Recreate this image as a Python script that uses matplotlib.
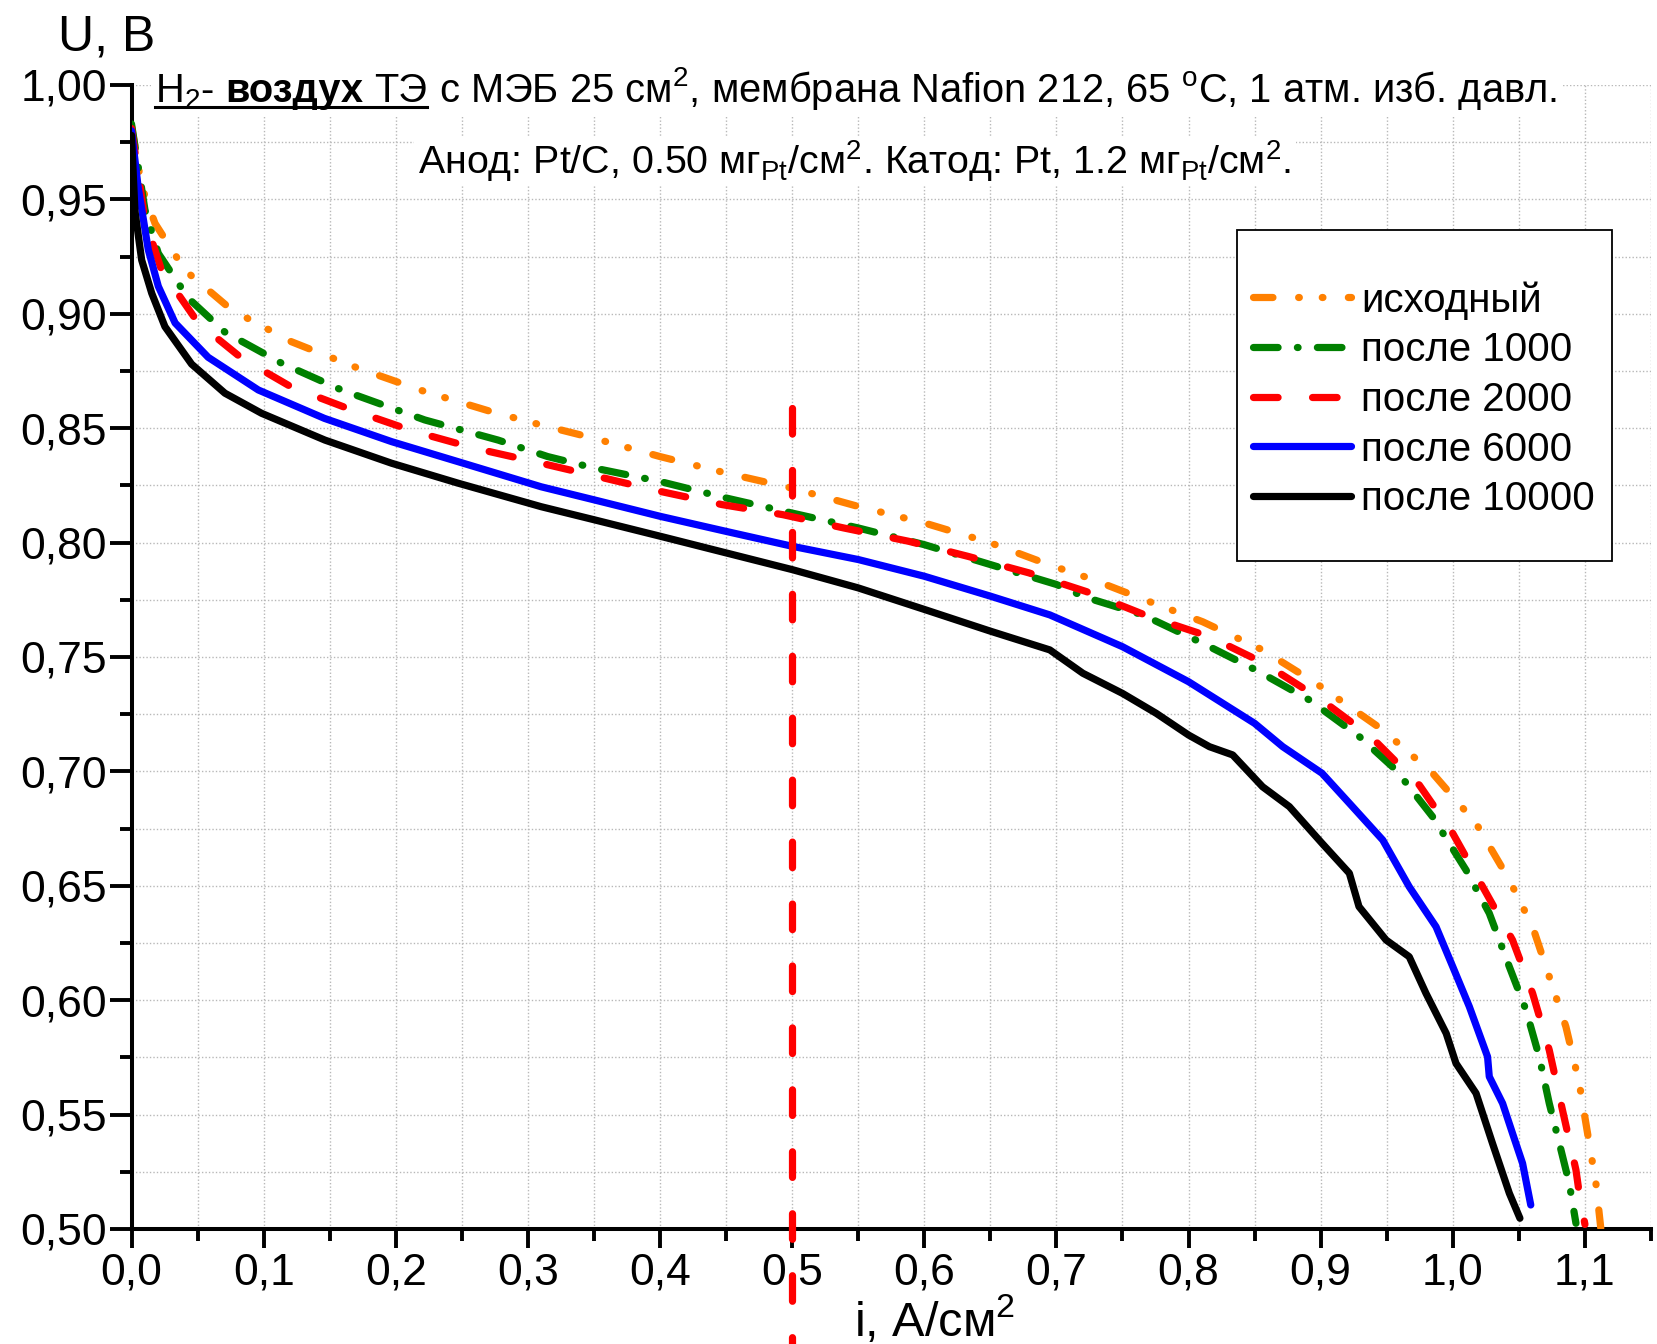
import matplotlib
matplotlib.use("Agg")
import matplotlib.pyplot as plt
from matplotlib.ticker import MultipleLocator, FuncFormatter
from matplotlib.patches import Rectangle
from matplotlib.lines import Line2D

plt.rcParams.update({
    "font.family": ["Liberation Sans", "DejaVu Sans"],
    "mathtext.fontset": "custom",
    "mathtext.rm": "Liberation Sans",
    "mathtext.it": "Liberation Sans:italic",
    "mathtext.bf": "Liberation Sans:bold",
    "lines.scale_dashes": False,
})

# --- data (i in A/cm2, U in V) ---
labels = ["исходный", "после 1000", "после 2000", "после 6000", "после 10000"]

i_init = [0, 0.0077, 0.0178, 0.0405, 0.0758, 0.121, 0.1716, 0.222, 0.2725, 0.31, 0.35, 0.40,
          0.45, 0.50, 0.55, 0.60, 0.65, 0.695, 0.725, 0.7704, 0.8107, 0.856, 0.8965, 0.947,
          0.9847, 1.0176, 1.0428, 1.0604, 1.073, 1.0856, 1.0957, 1.102, 1.1083, 1.112]
u_init = [0.982, 0.9556, 0.9395, 0.919, 0.9017, 0.8878, 0.8762, 0.866, 0.8572, 0.8514, 0.8456,
          0.8376, 0.8304, 0.8238, 0.8158, 0.8086, 0.7999, 0.7902, 0.7844, 0.7742, 0.7654, 0.7531,
          0.7385, 0.7181, 0.6992, 0.6773, 0.6525, 0.6321, 0.6103, 0.5884, 0.5637, 0.5418, 0.52, 0.5004]

i_1000 = [0, 0.0102, 0.0203, 0.043, 0.0707, 0.1136, 0.159, 0.222, 0.2775, 0.315, 0.35, 0.40,
          0.45, 0.50, 0.55, 0.60, 0.65, 0.70, 0.7225, 0.7654, 0.8107, 0.851, 0.8915, 0.9293,
          0.957, 0.9847, 1.010, 1.0276, 1.0428, 1.0554, 1.0654, 1.073, 1.0806, 1.0881, 1.0932]
u_1000 = [0.983, 0.9454, 0.9264, 0.9068, 0.892, 0.8784, 0.8667, 0.8536, 0.8448, 0.8376, 0.8326,
          0.8267, 0.8195, 0.8129, 0.8064, 0.7991, 0.7904, 0.7817, 0.776, 0.7684, 0.756, 0.7443,
          0.7312, 0.7152, 0.7006, 0.6802, 0.6569, 0.638, 0.6146, 0.5957, 0.5753, 0.5549, 0.5375,
          0.52, 0.5025]

i_2000 = [0, 0.0102, 0.0228, 0.0505, 0.0834, 0.121, 0.1666, 0.2144, 0.26, 0.31, 0.3527, 0.40,
          0.447, 0.493, 0.539, 0.588, 0.633, 0.679, 0.7226, 0.7704, 0.8158, 0.8574, 0.899, 0.938,
          0.9747, 1.0, 1.0226, 1.0452, 1.0604, 1.073, 1.083, 1.0932, 1.0957, 1.100]
u_2000 = [0.981, 0.941, 0.919, 0.896, 0.8806, 0.868, 0.858, 0.8485, 0.8412, 0.8347, 0.8289,
          0.8224, 0.8166, 0.8122, 0.8064, 0.8006, 0.794, 0.7868, 0.7786, 0.7676, 0.7589, 0.7472,
          0.7319, 0.7152, 0.694, 0.6729, 0.6496, 0.6263, 0.603, 0.5782, 0.552, 0.5258, 0.5156, 0.502]

i_6000 = [0, 0.005, 0.0127, 0.0203, 0.033, 0.058, 0.096, 0.146, 0.197, 0.247, 0.31, 0.35, 0.40,
          0.45, 0.50, 0.55, 0.60, 0.65, 0.695, 0.75, 0.80, 0.85, 0.8713, 0.901, 0.9217, 0.947,
          0.967, 0.9873, 1.0, 1.0125, 1.0263, 1.0276, 1.0377, 1.0452, 1.0528, 1.059]
u_6000 = [0.980, 0.9555, 0.928, 0.912, 0.896, 0.881, 0.8667, 0.8543, 0.8441, 0.8354, 0.8244,
          0.8187, 0.8115, 0.8049, 0.7984, 0.7926, 0.7853, 0.7766, 0.7684, 0.7545, 0.7392, 0.721,
          0.7108, 0.6992, 0.6861, 0.670, 0.6496, 0.6321, 0.6146, 0.5972, 0.5753, 0.5666, 0.5549,
          0.5418, 0.5287, 0.5105]

i_10000 = [0, 0.0026, 0.0077, 0.0153, 0.0253, 0.0455, 0.0707, 0.0985, 0.1464, 0.1968, 0.247,
           0.31, 0.35, 0.40, 0.45, 0.50, 0.55, 0.60, 0.65, 0.695, 0.72, 0.75, 0.7755, 0.80,
           0.8158, 0.8334, 0.856, 0.8763, 0.901, 0.9217, 0.929, 0.9495, 0.967, 0.9797, 0.995,
           1.0024, 1.0176, 1.030, 1.0428, 1.0508]
u_10000 = [0.978, 0.945, 0.9235, 0.909, 0.8944, 0.878, 0.8653, 0.8565, 0.8448, 0.8347, 0.826,
           0.8157, 0.810, 0.8028, 0.7955, 0.7882, 0.7802, 0.7708, 0.7613, 0.7531, 0.7429, 0.7341,
           0.7254, 0.7159, 0.7108, 0.7072, 0.6933, 0.6846, 0.6686, 0.6555, 0.6409, 0.6263, 0.619,
           0.603, 0.5855, 0.5724, 0.5593, 0.5375, 0.5156, 0.5047]

i_marker = 0.5

W, H = 1657, 1344
fig = plt.figure(figsize=(W / 100, H / 100), dpi=100)
ax = fig.add_axes([131.5 / W, 1 - 1229 / H, (1651 - 131.5) / W, (1229 - 85) / H])

lw = 5.2
styles = [
    dict(color="#ff8000", dashes=(14, 18.5, 0.5, 16.5, 0.5, 18.3)),
    dict(color="#008000", dashes=(17.7, 13.9, 0.5, 13.9)),
    dict(color="#ff0000", dashes=(17.7, 24.8)),
    dict(color="#0000ff"),
    dict(color="#000000"),
]
series = [(i_init, u_init), (i_1000, u_1000), (i_2000, u_2000), (i_6000, u_6000), (i_10000, u_10000)]
handles = []
for (x, y), st, lab in zip(series, styles, labels):
    ln, = ax.plot(x, y, lw=lw, dash_capstyle="round", solid_capstyle="round",
                  solid_joinstyle="round", dash_joinstyle="round", label=lab, zorder=3, **st)
    handles.append(ln)

# vertical marker at 0.5 A/cm2, running below the axis
ax.plot([i_marker, i_marker], [0.859, 0.44], color="#ff0000", lw=lw, dashes=(18.4, 26.2),
        dash_capstyle="round", clip_on=False, zorder=6)

ax.set_xlim(0, 1.15)
ax.set_ylim(0.5, 1.0)
ax.xaxis.set_major_locator(MultipleLocator(0.1))
ax.xaxis.set_minor_locator(MultipleLocator(0.05))
ax.yaxis.set_major_locator(MultipleLocator(0.05))
ax.yaxis.set_minor_locator(MultipleLocator(0.025))
ax.xaxis.set_major_formatter(FuncFormatter(lambda v, p: f"{v:.1f}".replace(".", ",")))
ax.yaxis.set_major_formatter(FuncFormatter(lambda v, p: f"{v:.2f}".replace(".", ",")))
ax.grid(which="both", ls=(0, (1, 1.5)), color="#b8b8b8", lw=1.0)
ax.set_axisbelow(True)

for s in ["top", "right"]:
    ax.spines[s].set_visible(False)
for s in ["left", "bottom"]:
    ax.spines[s].set_linewidth(2.9)
ax.tick_params(axis="x", which="major", direction="out", length=14, width=2.8, labelsize=32, pad=3)
ax.tick_params(axis="x", which="minor", direction="out", length=8.5, width=2.8)
ax.tick_params(axis="y", which="major", direction="out", length=15.5, width=2.8, labelsize=32, pad=2)
ax.tick_params(axis="y", which="minor", direction="out", length=9, width=2.8)

# axis titles
fig.text(58 / W, 1 - 50.7 / H, "U, B", fontsize=36, va="baseline")
fig.text(854 / W, 1 - 1336 / H, "i, A/см$^2$", fontsize=35, va="baseline")

# header lines
fig.canvas.draw()
rend = fig.canvas.get_renderer()


def put_row(pieces, x0, y0, size):
    space = 0.278 * size * 100 / 72
    x = x0
    boxes = []
    for s, w in pieces:
        t = fig.text(x / W, y0 / H, s, fontsize=size, fontweight=w, va="baseline",
                     ha="left", zorder=6)
        bb = t.get_window_extent(rend)
        boxes.append(bb)
        x = bb.x1 + space
    return boxes


row1 = [("H$_2$-", "normal"), ("воздух", "bold"), ("ТЭ", "normal"),
        ("с МЭБ 25 см$^2$, мембрана Nafion 212, 65 $^{\\rm o}$C, 1 атм. изб. давл.", "normal")]
row2 = [("Анод: Pt/C, 0.50 мг$_{\\rm Pt}$/см$^2$. Катод: Pt, 1.2 мг$_{\\rm Pt}$/см$^2$.", "normal")]

b1 = put_row(row1, 155, H - 102.5, 28.7)
b2 = put_row(row2, 418.5, H - 174, 28.4)

# white backing behind the header text
for bbs in (b1, b2):
    x0 = min(b.x0 for b in bbs) - 4
    x1 = max(b.x1 for b in bbs) + 4
    y0 = min(b.y0 for b in bbs) - 2
    y1 = max(b.y1 for b in bbs) + 2
    fig.add_artist(Rectangle((x0 / W, y0 / H), (x1 - x0) / W, (y1 - y0) / H,
                             transform=fig.transFigure, fc="white", ec="none", zorder=5))

# underline of "H2- воздух ТЭ"
uy = (H - 102.5 - 4) / H
fig.add_artist(Line2D([b1[0].x0 / W, b1[2].x1 / W], [uy, uy], transform=fig.transFigure,
                      color="black", lw=2.2, zorder=7))

# legend with its own frame
fig.add_artist(Rectangle((1236.7 / W, 1 - 560.7 / H), (1612 - 1236.7) / W, (560.7 - 230) / H,
                         transform=fig.transFigure, fc="white", ec="black", lw=1.3, zorder=4))
fig.legend(handles, labels, loc="upper left", bbox_to_anchor=(1253 / W, 1 - 281 / H),
           bbox_transform=fig.transFigure, frameon=False, fontsize=29, handlelength=2.43,
           handletextpad=0.25, labelspacing=0.29, borderpad=0, borderaxespad=0)

fig.savefig("out.png", dpi=100)
